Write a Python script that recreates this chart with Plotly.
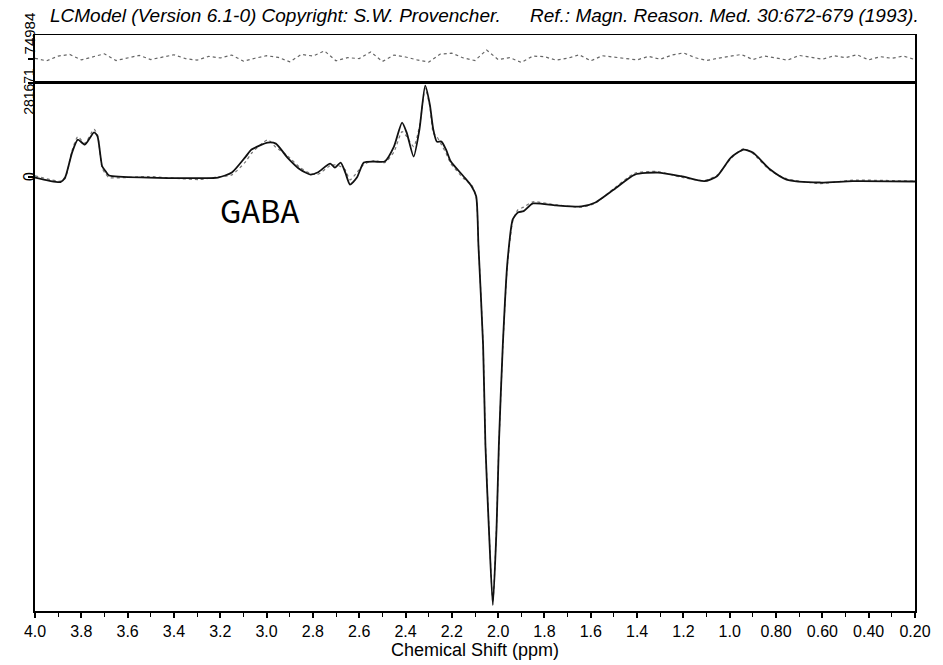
import plotly.graph_objects as go

# ---------------- data ----------------
ppm_fit = [4.00, 3.89, 3.87, 3.84, 3.815, 3.785, 3.745, 3.73, 3.71, 3.695, 3.68, 3.51, 3.29, 3.21,
           3.15, 3.09, 3.065, 2.995, 2.96, 2.91, 2.855, 2.81, 2.78, 2.725, 2.705, 2.68, 2.66, 2.64,
           2.61, 2.58, 2.535, 2.49, 2.45, 2.415, 2.395, 2.365, 2.34, 2.315, 2.295, 2.28, 2.265, 2.245,
           2.225, 2.205, 2.15, 2.115, 2.095, 2.085, 2.065, 2.055, 2.04, 2.023, 2.007, 1.997, 1.98,
           1.96, 1.937, 1.915, 1.89, 1.85, 1.75, 1.64, 1.58, 1.50, 1.41, 1.31, 1.21, 1.11, 1.055,
           0.995, 0.94, 0.90, 0.825, 0.755, 0.61, 0.47, 0.20]

fit_vals = [-3000, -16500, -3000, 72000, 111000, 96000, 133000, 121000, 31000, 16000, 3000, -3000,
            -4500, -3000, 12000, 60000, 81000, 102000, 99000, 57000, 21000, 6000, 12000, 39000,
            27000, 42000, 12000, -24000, -3000, 42000, 45000, 45000, 90000, 162000, 132000, 60000,
            141000, 273000, 216000, 141000, 105000, 105000, 81000, 46000, 1000, -29000, -59000,
            -209000, -508000, -808000, -1058000, -1288000, -1058000, -808000, -508000, -258000,
            -129000, -108000, -104000, -81000, -87000, -90000, -78000, -39000, 6000, 12000, 1000,
            -14000, 1000, 57000, 81000, 72000, 21000, -9000, -18000, -14000, -15000]

data_vals = [2000, -14000, -6000, 78000, 120000, 100000, 142000, 125000, 25000, 8000, -3000, 0,
             -9000, -1000, 5000, 45000, 70000, 110000, 88000, 62000, 27000, 9000, 6000, 33000,
             35000, 30000, 20000, -10000, 12000, 36000, 48000, 42000, 74000, 135000, 120000, 90000,
             150000, 265000, 210000, 130000, 120000, 96000, 70000, 40000, -5000, -25000, -62000,
             -205000, -505000, -800000, -1050000, -1280000, -1050000, -815000, -515000, -265000,
             -135000, -100000, -92000, -76000, -85000, -92000, -80000, -36000, 10000, 15000, -2000,
             -12000, 4000, 54000, 84000, 69000, 18000, -6000, -21000, -11000, -14000]

ppm_res = [4.00, 3.95, 3.90, 3.85, 3.80, 3.75, 3.70, 3.65, 3.60, 3.55, 3.50, 3.45, 3.40, 3.35,
           3.30, 3.25, 3.20, 3.15, 3.10, 3.05, 3.00, 2.95, 2.90, 2.85, 2.80, 2.75, 2.70, 2.65,
           2.60, 2.55, 2.50, 2.45, 2.40, 2.35, 2.30, 2.25, 2.20, 2.15, 2.10, 2.05, 2.00, 1.95,
           1.90, 1.85, 1.80, 1.75, 1.70, 1.65, 1.60, 1.55, 1.50, 1.45, 1.40, 1.35, 1.30, 1.25,
           1.20, 1.15, 1.10, 1.05, 1.00, 0.95, 0.90, 0.85, 0.80, 0.75, 0.70, 0.65, 0.60, 0.55,
           0.50, 0.45, 0.40, 0.35, 0.30, 0.25, 0.20]

res_vals = [2000, -6000, 9000, 14000, -3000, 7000, 16000, -5000, 4000, 11000,
            -2000, 6000, 13000, 1000, -4000, 8000, 3000, 12000, -7000, 2000,
            10000, 5000, -9000, 14000, 9000, 25000, -6000, 4000, 1000, 22000,
            -8000, 12000, 6000, -3000, -10000, 15000, 18000, 3000, -5000, 28000,
            -2000, 4000, -11000, 9000, 7000, -4000, 2000, 13000, -6000, 10000,
            5000, 1000, -3000, 8000, -1000, 12000, 19000, 4000, -5000, 2000,
            7000, 14000, -2000, 9000, 3000, -4000, 11000, 6000, -1000, 10000,
            4000, 13000, -3000, 7000, 2000, 9000, -2000]

x_tickvals = [4.0, 3.8, 3.6, 3.4, 3.2, 3.0, 2.8, 2.6, 2.4, 2.2, 2.0, 1.8, 1.6, 1.4, 1.2, 1.0,
              0.8, 0.6, 0.4, 0.2]
x_ticktext = ["4.0", "3.8", "3.6", "3.4", "3.2", "3.0", "2.8", "2.6", "2.4", "2.2", "2.0", "1.8",
              "1.6", "1.4", "1.2", "1.0", "0.80", "0.60", "0.40", "0.20"]

y_main_top = 281671
y_main_bottom = -1306000
res_range = 74984
label_gaba = ("GABA", 3.03, -99000)

title_left = "LCModel (Version 6.1-0) Copyright: S.W. Provencher."
title_right = "Ref.: Magn. Reason. Med. 30:672-679 (1993)."
xlabel = "Chemical Shift (ppm)"

# ---------------- figure ----------------
FONT = "Liberation Sans, Arial, sans-serif"
fig = go.Figure()

fig.add_trace(go.Scatter(x=ppm_fit, y=data_vals, mode="lines",
                         line=dict(color="#777777", width=1.2, dash="dot", shape="spline", smoothing=0.6),
                         xaxis="x", yaxis="y", showlegend=False, hoverinfo="skip"))
fig.add_trace(go.Scatter(x=ppm_fit, y=fit_vals, mode="lines",
                         line=dict(color="#111111", width=1.8, shape="spline", smoothing=0.6),
                         xaxis="x", yaxis="y", showlegend=False))
fig.add_trace(go.Scatter(x=ppm_res, y=res_vals, mode="lines",
                         line=dict(color="#666666", width=1.2, dash="dot"),
                         xaxis="x2", yaxis="y2", showlegend=False))

L, R, T, B = 35, 20, 35, 52
H = 665
plot_h = H - T - B
res_frac = 48 / plot_h

fig.update_layout(
    width=943, height=665,
    margin=dict(l=L, r=R, t=T, b=B),
    paper_bgcolor="white", plot_bgcolor="white",
    font=dict(family=FONT, color="black", size=14),
    xaxis=dict(domain=[0, 1], anchor="y", range=[4.0, 0.2], autorange=False,
               tickmode="array", tickvals=x_tickvals, ticktext=x_ticktext,
               ticks="outside", ticklen=5, tickwidth=1.5, tickcolor="black",
               minor=dict(tickmode="linear", tick0=0.1, dtick=0.2, ticks="outside", ticklen=4,
                          tickwidth=1.2, tickcolor="black"),
               showline=True, linecolor="black", linewidth=1.8, mirror=True,
               showgrid=False, zeroline=False,
               tickfont=dict(family=FONT, size=16),
               title=dict(text=xlabel, font=dict(family=FONT, size=18), standoff=0)),
    yaxis=dict(domain=[0, 1 - res_frac], anchor="x", range=[y_main_bottom, y_main_top],
               tickmode="array", tickvals=[0, y_main_top], showticklabels=False,
               ticks="outside", ticklen=5, tickwidth=1.5, tickcolor="black",
               showline=True, linecolor="black", linewidth=1.8, mirror=True,
               showgrid=False, zeroline=False),
    xaxis2=dict(domain=[0, 1], anchor="y2", matches="x", range=[4.0, 0.2],
                showticklabels=False, ticks="",
                showline=True, linecolor="black", linewidth=1.2, mirror=True,
                showgrid=False, zeroline=False),
    yaxis2=dict(domain=[1 - res_frac, 1], anchor="x2", range=[-res_range, res_range],
                tickmode="array", tickvals=[0], showticklabels=False,
                ticks="outside", ticklen=5, tickwidth=1.5, tickcolor="black",
                showline=True, linecolor="black", linewidth=1.5, mirror=True,
                showgrid=False, zeroline=False),
)

annotations = [
    dict(text=f"<i>{title_left}</i>", xref="paper", yref="paper", x=(48 - L) / 888, y=1,
         yshift=20, xanchor="left", yanchor="middle", showarrow=False,
         font=dict(family=FONT, size=19)),
    dict(text=f"<i>{title_right}</i>", xref="paper", yref="paper", x=(929 - L) / 888, y=1,
         yshift=20, xanchor="right", yanchor="middle", showarrow=False,
         font=dict(family=FONT, size=19)),
    dict(text="0", xref="paper", yref="y", x=0, y=0, xshift=-16, textangle=-90,
         showarrow=False, font=dict(family=FONT, size=16)),
    dict(text=str(y_main_top), xref="paper", yref="y", x=0, y=y_main_top, xshift=-16, yshift=-9,
         textangle=-90, showarrow=False, font=dict(family=FONT, size=14)),
    dict(text=str(res_range), xref="paper", yref="y2", x=0, y=0, xshift=-16, yshift=25,
         textangle=-90, showarrow=False, font=dict(family=FONT, size=15)),
    dict(text=label_gaba[0], xref="x", yref="y", x=label_gaba[1], y=label_gaba[2],
         showarrow=False, font=dict(family="Noto Sans CJK JP, DejaVu Sans", size=31, color="black")),
]
fig.update_layout(annotations=annotations)

fig.write_html("out.html")
